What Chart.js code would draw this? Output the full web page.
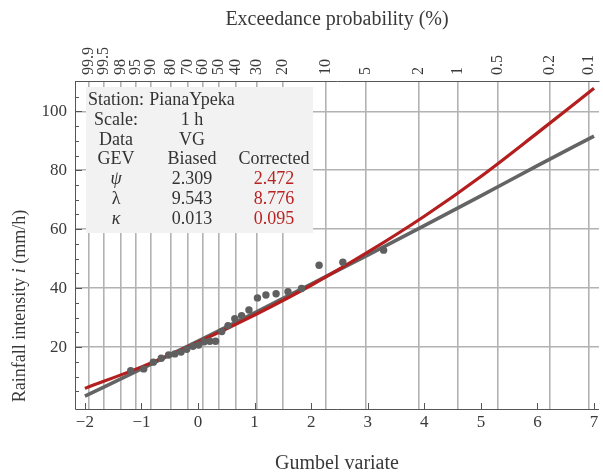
<!DOCTYPE html>
<html>
<head>
<meta charset="utf-8">
<script src="https://cdn.jsdelivr.net/npm/chart.js@4/dist/chart.umd.min.js"></script>
<style>
  html, body { margin: 0; padding: 0; background: #fff; }
  #wrap { width: 603px; height: 472px; }
</style>
</head>
<body>
<div id="wrap"><canvas id="chart" width="603" height="472"></canvas></div>
<script>
// top axis: exceedance probability (%) and its labels
const topTickProbs = [99.9, 99.5, 98, 95, 90, 80, 70, 60, 50, 40, 30, 20, 10, 5, 2, 1, 0.5, 0.2, 0.1];
const topTickLabels = ["99.9", "99.5", "98", "95", "90", "80", "70", "60", "50", "40", "30", "20", "10", "5", "2", "1", "0.5", "0.2", "0.1"];
const bottomTicks = [-2, -1, 0, 1, 2, 3, 4, 5, 6, 7];
const yTicks = [20, 40, 60, 80, 100];

// empirical points (Gumbel variate, mm/h)
const sampleGumbel = [-1.19, -0.96, -0.79, -0.65, -0.52, -0.41, -0.30, -0.20, -0.09, 0.01, 0.11, 0.21, 0.31,
  0.42, 0.53, 0.65, 0.77, 0.90, 1.05, 1.20, 1.38, 1.59, 1.83, 2.14, 2.56, 3.28];
const sampleIntensity = [12.0, 12.6, 14.9, 16.2, 17.3, 17.7, 18.3, 19.3, 20.3, 20.7, 21.8, 22.0, 22.0,
  25.3, 27.3, 29.6, 30.7, 32.6, 36.7, 37.7, 38.1, 38.8, 39.9, 47.8, 48.8, 52.9];

// fitted GEV curves read at whole Gumbel variates
const curveGumbel = [-2, -1, 0, 1, 2, 3, 4, 5, 6, 7];
const biasedIntensity = [3.4, 12.6, 22.0, 31.6, 41.4, 51.2, 61.2, 71.3, 81.6, 91.6];
const correctedIntensity = [6.0, 13.3, 21.7, 30.9, 41.0, 52.2, 64.4, 77.9, 92.7, 107.8];

// parameter table
const tableCol1 = ["Station:", "Scale:", "Data", "GEV", "ψ", "λ", "κ"];
const tableCol2 = ["PianaYpeka", "1 h", "VG", "Biased", "2.309", "9.543", "0.013"];
const tableCol3 = ["", "", "", "Corrected", "2.472", "8.776", "0.095"];

const SERIF = '"Liberation Serif", "DejaVu Serif", serif';
const TEXT = "#3a3a3a";
const GRID = "rgb(178,178,178)";
const FRAME = "#555";

const toPts = (xs, ys) => xs.map((x, i) => ({ x, y: ys[i] }));

const tablePlugin = {
  id: "paramTable",
  beforeDatasetsDraw(chart) {
    const ctx = chart.ctx;
    ctx.save();
    ctx.fillStyle = "rgb(242,242,242)";
    ctx.fillRect(86, 87, 227, 146);
    ctx.textAlign = "center";
    ctx.textBaseline = "alphabetic";
    const greekItalic = { "ψ": true, "κ": true };
    tableCol1.forEach((t, i) => {
      const y = 105 + i * 19.8;
      ctx.fillStyle = "#333";
      ctx.font = (greekItalic[t] ? "italic " : "") + "18px " + SERIF;
      ctx.fillText(t, 116, y);
      ctx.font = "18px " + SERIF;
      ctx.fillText(tableCol2[i], 192, y);
      ctx.fillStyle = i >= 4 ? "rgb(185,35,35)" : "#333";
      ctx.fillText(tableCol3[i], 274, y);
    });
    ctx.restore();
  }
};

const framePlugin = {
  id: "frame",
  afterDraw(chart) {
    const ctx = chart.ctx;
    const a = chart.chartArea;
    const xs = chart.scales.x, ys = chart.scales.y, xt = chart.scales.x2;
    ctx.save();
    ctx.strokeStyle = FRAME;
    ctx.lineWidth = 1;
    ctx.beginPath();
    ctx.moveTo(a.left + 0.5, a.top + 0.5);
    ctx.lineTo(a.right + 0.5, a.top + 0.5);
    ctx.moveTo(a.left + 0.5, a.top);
    ctx.lineTo(a.left + 0.5, a.bottom + 0.5);
    ctx.lineTo(a.right, a.bottom + 0.5);
    // inner ticks
    bottomTicks.forEach(v => {
      const px = Math.round(xs.getPixelForValue(v)) + 0.5;
      ctx.moveTo(px, a.bottom);
      ctx.lineTo(px, a.bottom - 6);
    });
    for (let v = 5; v <= 105; v += 5) {
      const py = Math.round(ys.getPixelForValue(v)) + 0.5;
      ctx.moveTo(a.left, py);
      ctx.lineTo(a.left + (v % 20 === 0 ? 7 : 4), py);
    }
    ctx.stroke();

    // rotated probability labels, centred on their grid lines
    ctx.fillStyle = TEXT;
    ctx.font = "16px " + SERIF;
    ctx.textAlign = "left";
    ctx.textBaseline = "middle";
    xt.ticks.forEach((t, i) => {
      ctx.save();
      ctx.translate(xt.getPixelForValue(t.value), a.top - 6);
      ctx.rotate(-Math.PI / 2);
      ctx.fillText(topTickLabels[i], 0, 0);
      ctx.restore();
    });

    // left title with italic i
    const parts = [["Rainfall intensity ", ""], ["i", "italic "], [" (mm/h)", ""]];
    let total = 0;
    parts.forEach(p => { ctx.font = p[1] + "18px " + SERIF; total += ctx.measureText(p[0]).width; });
    ctx.translate(25, 306);
    ctx.rotate(-Math.PI / 2);
    ctx.textBaseline = "alphabetic";
    ctx.textAlign = "left";
    let x = -total / 2;
    parts.forEach(p => {
      ctx.font = p[1] + "18px " + SERIF;
      ctx.fillText(p[0], x, 0);
      x += ctx.measureText(p[0]).width;
    });
    ctx.restore();
  }
};

new Chart(document.getElementById("chart"), {
  type: "scatter",
  data: {
    datasets: [
      {
        label: "Observed",
        data: toPts(sampleGumbel, sampleIntensity),
        pointRadius: 3.7,
        pointBackgroundColor: "rgb(95,95,95)",
        pointBorderWidth: 0,
        showLine: false
      },
      {
        label: "Corrected",
        type: "line",
        data: toPts(curveGumbel, correctedIntensity),
        borderColor: "rgb(180,30,30)",
        borderWidth: 3.2,
        pointRadius: 0,
        cubicInterpolationMode: "monotone",
        fill: false
      },
      {
        label: "Biased",
        type: "line",
        data: toPts(curveGumbel, biasedIntensity),
        borderColor: "rgb(100,100,100)",
        borderWidth: 3.6,
        pointRadius: 0,
        cubicInterpolationMode: "monotone",
        fill: false
      }
    ]
  },
  options: {
    responsive: false,
    animation: false,
    devicePixelRatio: 1,
    layout: { padding: 0 },
    plugins: { legend: { display: false }, tooltip: { enabled: false } },
    scales: {
      x: {
        type: "linear",
        position: "bottom",
        min: -2.175,
        max: 7.088,
        afterBuildTicks: s => { s.ticks = bottomTicks.map(v => ({ value: v })); },
        afterFit: s => { s.height = 63; s.paddingLeft = 0; s.paddingRight = 0; },
        grid: { display: false, drawTicks: false },
        border: { display: false },
        ticks: {
          color: TEXT,
          padding: 5,
          font: { family: SERIF, size: 17, lineHeight: 1 },
          callback: v => (v < 0 ? "\u2212" + Math.abs(v) : String(v))
        },
        title: {
          display: true,
          text: "Gumbel variate",
          color: TEXT,
          font: { family: SERIF, size: 20, lineHeight: 1 },
          padding: { top: 0, bottom: -2 }
        }
      },
      x2: {
        type: "linear",
        position: "top",
        min: -2.175,
        max: 7.088,
        afterBuildTicks: s => {
          s.ticks = topTickProbs.map(p => ({ value: -Math.log(-Math.log(1 - p / 100)) }));
        },
        afterFit: s => { s.height = 81; s.paddingLeft = 0; s.paddingRight = 0; },
        grid: { color: GRID, lineWidth: 1.6, drawTicks: false },
        border: { display: false },
        ticks: { display: false, autoSkip: false },
        title: {
          display: true,
          text: "Exceedance probability (%)",
          color: TEXT,
          font: { family: SERIF, size: 20, lineHeight: 1.2 },
          padding: { top: 8, bottom: 0 }
        }
      },
      y: {
        type: "linear",
        min: -1,
        max: 110.3,
        afterBuildTicks: s => { s.ticks = yTicks.map(v => ({ value: v })); },
        afterFit: s => { s.width = 75; },
        grid: { color: GRID, lineWidth: 1.6, drawTicks: false },
        border: { display: false },
        ticks: {
          color: TEXT,
          padding: 8,
          font: { family: SERIF, size: 17 }
        }
      }
    }
  },
  plugins: [tablePlugin, framePlugin]
});
</script>
</body>
</html>
